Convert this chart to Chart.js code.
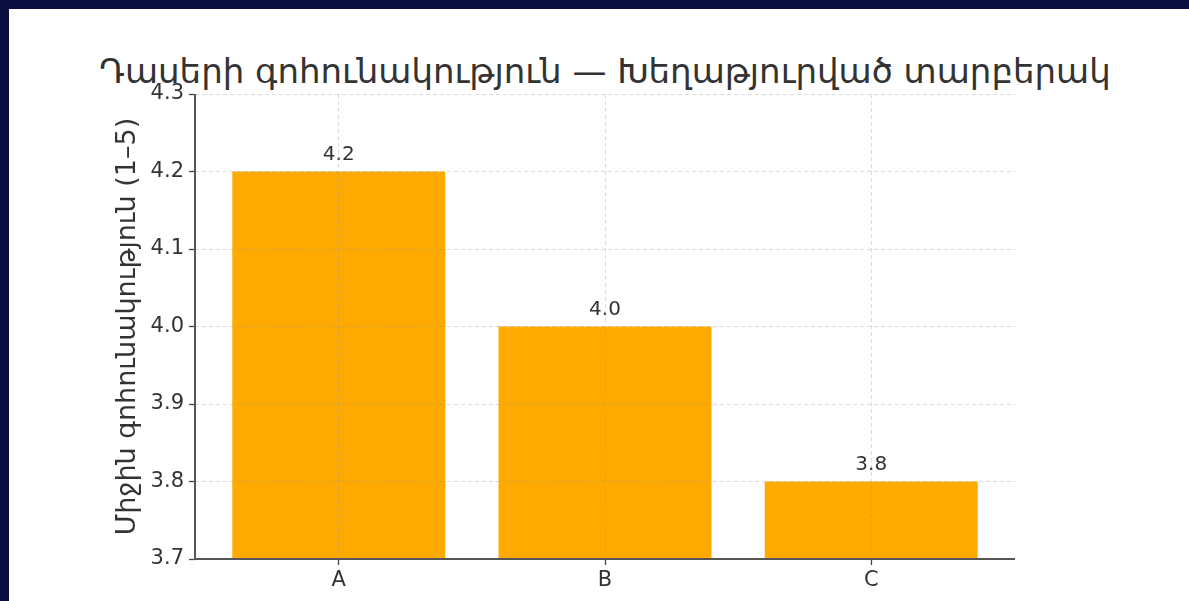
<!DOCTYPE html>
<html>
<head>
<meta charset="utf-8">
<script src="https://cdn.jsdelivr.net/npm/chart.js@4"></script>
<style>
  html, body { margin: 0; padding: 0; background: #0b0f40; overflow: hidden; }
  #panel { position: absolute; left: 9px; top: 9px; width: 1180px; height: 592px; background: #fff; }
  #title { position: absolute; left: 0; width: 1192px; top: 42px; text-align: center;
           font-family: "DejaVu Sans", sans-serif; font-size: 34px; color: #333; white-space: nowrap; }
  canvas { position: absolute; left: 0; top: 0; }
</style>
</head>
<body>
<div id="panel">
  <div id="title">Դասերի գոհունակություն — Խեղաթյուրված տարբերակ</div>
  <canvas id="chart" width="1180" height="592"></canvas>
</div>
<script>
const categories = ['A', 'B', 'C'];
const scores = [4.2, 4.0, 3.8];
const yTicks = [3.7, 3.8, 3.9, 4.0, 4.1, 4.2, 4.3];

const font = "'DejaVu Sans', sans-serif";

// numbers above each bar
const valueLabels = {
  id: 'valueLabels',
  afterDatasetsDraw(chart) {
    const ctx = chart.ctx;
    const meta = chart.getDatasetMeta(0);
    ctx.save();
    ctx.font = '20px ' + font;
    ctx.fillStyle = '#333';
    ctx.textAlign = 'center';
    ctx.textBaseline = 'bottom';
    meta.data.forEach((bar, i) => {
      ctx.fillText(scores[i].toFixed(1), bar.x, bar.y - 7);
    });
    ctx.restore();
  }
};

// left and bottom spines, solid
const spines = {
  id: 'spines',
  afterDraw(chart) {
    const { ctx, chartArea: a } = chart;
    ctx.save();
    ctx.setLineDash([]);
    ctx.strokeStyle = '#555';
    ctx.lineWidth = 2;
    ctx.beginPath();
    ctx.moveTo(a.left, a.top);
    ctx.lineTo(a.left, a.bottom);
    ctx.lineTo(a.right, a.bottom);
    ctx.stroke();
    ctx.restore();
  }
};

const gridOpts = {
  z: 1,
  offset: false,
  color: 'rgba(150,150,150,0.35)',
  lineWidth: 1,
  tickLength: 6,
  tickColor: '#444',
  tickWidth: 1.3
};

new Chart(document.getElementById('chart').getContext('2d'), {
  type: 'bar',
  data: {
    datasets: [{
      data: scores.map((v, i) => ({ x: i, y: v })),
      backgroundColor: '#ffaa00',
      categoryPercentage: 1,
      barPercentage: 0.8
    }]
  },
  options: {
    responsive: false,
    animation: false,
    layout: { padding: { left: 99, top: 85, right: 174, bottom: 0 } },
    plugins: { legend: { display: false }, tooltip: { enabled: false } },
    scales: {
      x: {
        type: 'linear',
        offset: false,
        min: -0.54,
        max: 2.54,
        afterBuildTicks: axis => { axis.ticks = categories.map((c, i) => ({ value: i })); },
        afterFit: axis => { axis.height = 42; },
        ticks: {
          callback: v => categories[v],
          font: { family: font, size: 21 },
          color: '#333',
          padding: 3
        },
        grid: gridOpts,
        border: { display: true, width: 0, color: 'rgba(0,0,0,0)', dash: [4, 3] }
      },
      y: {
        min: 3.7,
        max: 4.3,
        afterBuildTicks: axis => { axis.ticks = yTicks.map(v => ({ value: v })); },
        afterFit: axis => { axis.width = 87; },
        ticks: {
          callback: v => v.toFixed(1),
          font: { family: font, size: 21 },
          color: '#333',
          padding: 5
        },
        grid: gridOpts,
        border: { display: true, width: 0, color: 'rgba(0,0,0,0)', dash: [4, 3] },
        title: {
          display: true,
          text: 'Միջին գոհունակություն (1–5)',
          font: { family: font, size: 27 },
          color: '#333',
          padding: { top: 4, bottom: 0 }
        }
      }
    }
  },
  plugins: [valueLabels, spines]
});
</script>
</body>
</html>
